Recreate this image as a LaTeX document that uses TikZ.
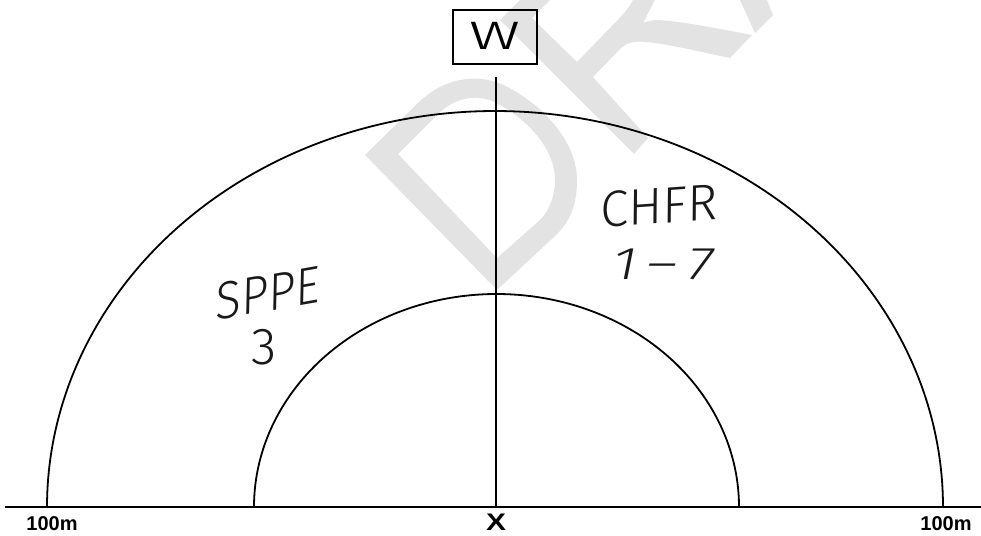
\documentclass[tikz,border=0pt]{standalone}
\usepackage{fontspec}
\setmainfont{Liberation Sans}
\newfontfamily\handfont{Fira Sans Light}
\tikzset{
  inkline/.style={black,line width=1.8pt},
  handtext/.style={inner sep=0pt,transform shape,text=black!90},
  scaletext/.style={inner sep=0pt,font=\bfseries\fontsize{20}{20}\selectfont},
  wmark/.style={fill=black!11,draw=none,even odd rule}
}
\begin{document}
\begin{tikzpicture}[x=1pt,y=-1pt]
\useasboundingbox (0,0) rectangle (981,535);
% watermark
\fill[wmark] (365,155) -- (420,101) .. controls (445,78) and (480,70) .. (513,90)
  .. controls (548,110) and (577,145) .. (577,180) .. controls (577,205) and (570,222) .. (555,236)
  -- (497,290) -- cycle
  (398,154) -- (437,115) .. controls (455,97) and (478,92) .. (500,105)
  .. controls (530,122) and (555,150) .. (555,180) .. controls (555,195) and (550,210) .. (540,220)
  -- (497,258) -- cycle;
\fill[wmark] (500,20) -- (520,0) -- (550,0) -- (532,18) -- (577,62) -- (610,28)
  .. controls (622,16) and (629,8) .. (633,0) -- (655,0) -- (643,23)
  .. controls (648,21) and (652,20) .. (657,20) .. controls (680,21) and (715,28) .. (752,35)
  -- (730,58) .. controls (700,52) and (670,44) .. (645,42)
  .. controls (635,41) and (628,42) .. (621,48) -- (593,77) -- (648,138) -- (634,154) -- cycle;
\fill[wmark] (755,33) -- (773,15) -- (767,0) -- (740,0) -- cycle;
% geometry
\coordinate (left) at (5,507);
\coordinate (right) at (981,507);
\coordinate (top) at (496,77);
\coordinate (foot) at (496,507);
\draw[inkline,line width=2.6pt] (left) -- (right);
\draw[inkline] (top) -- (foot);
\draw[inkline] plot[domain=180:360,samples=181] ({495+448*cos(\x)},{507+396*sin(\x)});
\draw[inkline] plot[domain=180:360,samples=181] ({496.5+242.5*cos(\x)},{507+213*sin(\x)});
% labelled box
\node[draw=black,line width=1.4pt,minimum width=84pt,minimum height=54pt,inner sep=0pt,
  font=\handfont\fontsize{52}{52}\selectfont] (box) at (495,37) {\raisebox{2pt}{\scalebox{1.4}[1]{w}}};
% handwritten labels
\node[handtext,rotate=4,xslant=0.08,font=\handfont\fontsize{51}{51}\selectfont] (chfr) at (659,206) {CHFR};
\node[handtext,font=\handfont\fontsize{46}{46}\selectfont,xslant=0.2,xscale=1.28] (range) at (664,264) {1\,–\,7};
\node[handtext,rotate=10,xslant=0.2,font=\handfont\fontsize{52}{52}\selectfont,xscale=.92] (sppe) at (268,293) {SPPE};
\node[handtext,font=\handfont\fontsize{52}{52}\selectfont] (three) at (264,347) {3};
% scale labels
\node[scaletext] (l100) at (52,524) {100m};
\node[scaletext] (r100) at (946,524) {100m};
\node[inner sep=0pt,font=\bfseries\fontsize{24}{24}\selectfont] (xlab) at (496,522.5) {\scalebox{1.25}[1]{X}};
\end{tikzpicture}
\end{document}
